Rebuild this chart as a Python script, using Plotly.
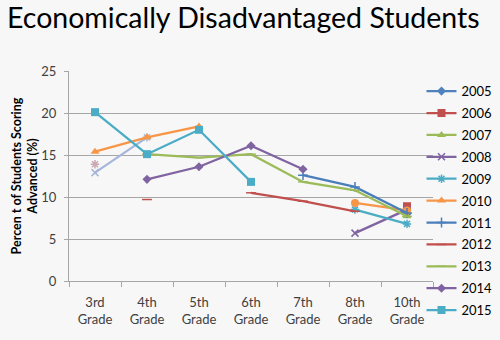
import plotly.graph_objects as go

# Grade levels on the category axis
grades = ["3rd Grade", "4th Grade", "5th Grade", "6th Grade", "7th Grade", "8th Grade", "10th Grade"]
grade_labels = ["3rd<br>Grade", "4th<br>Grade", "5th<br>Grade", "6th<br>Grade",
                "7th<br>Grade", "8th<br>Grade", "10th<br>Grade"]

# Percent of economically disadvantaged students scoring Advanced, by cohort year
y2005 = [None, None, None, None, None, None, 8.0]
y2006 = [None, None, None, None, None, None, 8.9]
y2007 = [None, None, None, None, None, None, 7.7]
y2008 = [12.9, 17.1, None, None, None, 5.7, 8.5]
y2009 = [13.9, None, None, None, None, 8.5, 6.8]
y2010 = [15.4, 17.1, 18.4, None, None, 9.3, 8.4]
y2011 = [None, None, None, None, 12.6, 11.2, 8.1]
y2012 = [None, 9.7, None, 10.5, 9.5, 8.3, None]
y2013 = [None, 15.1, 14.7, 15.1, 11.8, 10.8, 7.7]
y2014 = [None, 12.1, 13.6, 16.1, 13.3, None, None]
y2015 = [20.1, 15.1, 18.0, 11.8, None, None, None]

years = ["2005", "2006", "2007", "2008", "2009", "2010",
         "2011", "2012", "2013", "2014", "2015"]
values = [y2005, y2006, y2007, y2008, y2009, y2010,
          y2011, y2012, y2013, y2014, y2015]

colors = {
    "2005": "#4F81BD", "2006": "#C0504D", "2007": "#9BBB59", "2008": "#8064A2",
    "2009": "#4BACC6", "2010": "#F79646", "2011": "#4A7EBB", "2012": "#C0504D",
    "2013": "#9BBB59", "2014": "#8064A2", "2015": "#4BACC6",
}
symbols = {
    "2005": "diamond", "2006": "square", "2007": "triangle-up", "2008": "x-thin-open",
    "2009": "asterisk-open", "2010": "circle", "2011": "cross-thin-open",
    "2012": "line-ew-open", "2013": "line-ew-open", "2014": "diamond", "2015": "square",
}
sizes = {"2015": 8, "2014": 7, "2005": 7, "2006": 8, "2007": 8, "2010": 8}

# early-grade points of these cohorts are drawn in a washed-out tone
faded = {"2008": ("#A6B6DA", ["x-thin-open", "asterisk-open"]),
         "2009": ("#C9AAB6", ["asterisk-open"])}
faded_upto = 2

fig = go.Figure()

for yr, vals in zip(years, values):
    col = colors[yr]
    sym = symbols[yr]
    if yr == "2010":
        sym = ["triangle-up", "triangle-up", "triangle-up", "circle", "circle", "circle", "circle"]
    main_vals = list(vals)
    if yr in faded:
        main_vals = [None if i < faded_upto else v for i, v in enumerate(vals)]
    open_sym = yr in ("2008", "2009", "2011", "2012", "2013")
    fig.add_trace(go.Scatter(
        x=grades, y=main_vals, name=yr, legendgroup=yr,
        mode="lines+markers",
        line=dict(color=col, width=2.25),
        marker=dict(symbol=sym, size=sizes.get(yr, 7), color=col,
                    line=dict(color=col, width=1.5 if open_sym else 0)),
    ))
    if yr in faded:
        fcol, fsyms = faded[yr]
        fx = [g for i, g in enumerate(grades[:faded_upto]) if vals[i] is not None]
        fy = [v for v in vals[:faded_upto] if v is not None]
        fig.add_trace(go.Scatter(
            x=fx, y=fy, legendgroup=yr, showlegend=False,
            mode="lines+markers",
            line=dict(color=fcol, width=2.25),
            marker=dict(symbol=fsyms, size=7, color=fcol, line=dict(color=fcol, width=1.5)),
        ))

font_family = "Lato, 'Open Sans', sans-serif"

fig.update_layout(
    width=500, height=340,
    margin=dict(l=69, r=67, t=71, b=59, autoexpand=False),
    paper_bgcolor="#F7F7F7", plot_bgcolor="#F7F7F7",
    font=dict(family=font_family, size=12, color="#404040"),
    title=dict(text="Economically Disadvantaged Students",
               font=dict(family=font_family, size=28.5, color="#000000"),
               x=0.014, xanchor="left", y=0.975, yanchor="top"),
    showlegend=True,
    legend=dict(xref="container", yref="container", x=0.843, xanchor="left",
                y=0.776, yanchor="top",
                font=dict(size=13, color="#000000"), bgcolor="rgba(0,0,0,0)",
                tracegroupgap=2, itemwidth=30, maxheight=330),
)
fig.update_xaxes(
    type="category", categoryorder="array", categoryarray=grades,
    tickmode="array", tickvals=grades, ticktext=grade_labels,
    tickson="boundaries", ticks="outside", ticklen=5, tickcolor="#A6A6A6",
    showline=True, linecolor="#A6A6A6", linewidth=1, showgrid=False,
    tickfont=dict(size=13, color="#404040"), range=[-0.5, 6.5],
    ticklabelstandoff=9, automargin=False,
)
fig.update_yaxes(
    range=[0, 25], dtick=5, tick0=0,
    ticks="outside", ticklen=4, tickcolor="#A6A6A6",
    showline=True, linecolor="#A6A6A6", linewidth=1,
    showgrid=True, gridcolor="#A6A6A6", gridwidth=1, zeroline=False,
    tickfont=dict(size=13, color="#404040"), automargin=False,
    ticklabelstandoff=5,
    title=dict(text="<b>Percen t of Students Scoring<br>Advanced (%)</b>",
               font=dict(size=12.5, color="#000000"), standoff=0),
)

fig.write_html("out.html")
